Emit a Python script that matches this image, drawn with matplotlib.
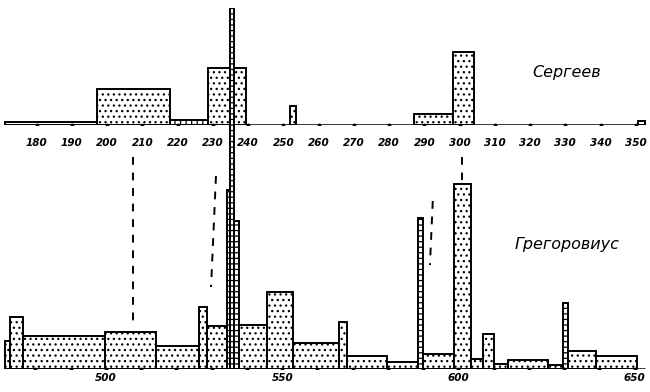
import numpy as np
import matplotlib
matplotlib.use('Agg')
import matplotlib.pyplot as plt

plt.rcParams['hatch.linewidth'] = 0.9

##################################
# Сергеев (верхняя шкала)        #
##################################
serg_left = [171.1, 197.2, 217.9, 228.6, 251.9, 287.1, 298.1, 350.5]
serg_right = [197.2, 217.9, 228.6, 239.4, 253.6, 298.1, 304.1, 352.6]
serg_h = [3, 36, 5, 57, 19, 11, 73, 4]
serg_hatch = ['', '...', '|||', '...', '...', '...', '...', '']
serg_ticks = np.arange(180, 351, 10)

##################################
# Грегоровиус (нижняя шкала)     #
##################################
greg_left = [471.3, 472.8, 476.5, 499.7, 514.2, 526.4, 528.7, 534.3, 535.3,
             536.4, 537.8, 545.6, 553.1, 566.1, 568.3, 579.6, 588.6, 589.8,
             598.8, 603.5, 606.9, 610.1, 614.1, 625.5, 629.6, 631.1, 639.0]
greg_right = [472.8, 476.5, 499.7, 514.2, 526.4, 528.7, 534.3, 535.3, 536.4,
              537.8, 545.6, 553.1, 566.1, 568.3, 579.6, 588.6, 589.8, 598.8,
              603.5, 606.9, 610.1, 614.1, 625.5, 629.6, 631.1, 639.0, 650.5]
greg_h = [28, 52, 33, 37, 23, 62, 43, 179, 361,
          148, 44, 77, 26, 47, 13, 7, 151, 15,
          185, 10, 35, 5, 9, 4, 66, 18, 13.5]
# los angostos van con rayitas
greg_narrow = [534.3, 535.3, 536.4, 588.6, 629.6]
greg_dots = np.arange(480, 651, 10)
greg_ticks = [500, 550, 600, 650]

# lineas punteadas de correspondencia
dash_x0 = [507.7, 531.2, 592.7, 601.0]
dash_x1 = [507.7, 529.8, 591.9, 601.0]
dash_y0 = [212, 193, 168, 212]
dash_y1 = [47, 82, 104, 189]

px = 3.525  # pixeles por unidad
W, H = 650, 392

fig = plt.figure(figsize=(6.5, 3.92), dpi=100)
ax_t = fig.add_axes([0, (H - 125) / H, 1, 117 / H])
ax_b = fig.add_axes([0, (H - 369) / H, 1, 361 / H])

ax_t.set_xlim(169.63, 169.63 + W / px)
ax_t.set_ylim(0, 117)
ax_b.set_xlim(469.93, 469.93 + W / px)
ax_b.set_ylim(0, 361)

lab_font = dict(fontsize=7.5, fontstyle='italic', fontweight='bold')

for ax in (ax_t, ax_b):
    ax.patch.set_alpha(0)
    for s in ax.spines.values():
        s.set_visible(False)
    ax.tick_params(axis='y', left=False, labelleft=False)

# ---- arriba ----
for l, r, h, hc in zip(serg_left, serg_right, serg_h, serg_hatch):
    ax_t.bar(l, h, width=r - l, align='edge', facecolor='white',
             edgecolor='black', linewidth=1.4, hatch=hc)
ax_t.hlines(0, serg_left[0], serg_right[-1], color='black', lw=1.8)
ax_t.plot(serg_ticks, np.zeros(len(serg_ticks)), 'k.', ms=3.5)
ax_t.set_xticks(serg_ticks)
ax_t.set_xticklabels([str(t) for t in serg_ticks], **lab_font)
ax_t.tick_params(axis='x', length=0, pad=9.5)
ax_t.text(330.5, 53, 'Сергеев', fontsize=11.5, fontstyle='italic',
          ha='center', va='center')

# ---- abajo ----
for l, r, h in zip(greg_left, greg_right, greg_h):
    hc = '---' if l in greg_narrow else '...'
    ax_b.bar(l, h, width=r - l, align='edge', facecolor='white',
             edgecolor='black', linewidth=1.4, hatch=hc)
ax_b.hlines(0, greg_left[0], 653.0, color='black', lw=1.8)
ax_b.plot(greg_dots, np.zeros(len(greg_dots)), 'k.', ms=3.5)
ax_b.set_xticks(greg_ticks)
ax_b.set_xticklabels([str(t) for t in greg_ticks], **lab_font)
ax_b.tick_params(axis='x', length=0, pad=3)
ax_b.text(630.8, 124, 'Грегоровиус', fontsize=11.5, fontstyle='italic',
          ha='center', va='center')

for x0, x1, y0, y1 in zip(dash_x0, dash_x1, dash_y0, dash_y1):
    ax_b.plot([x0, x1], [y0, y1], color='black', lw=1.4,
              linestyle=(0, (4, 4)), clip_on=False)

fig.savefig('out.png', dpi=100)
